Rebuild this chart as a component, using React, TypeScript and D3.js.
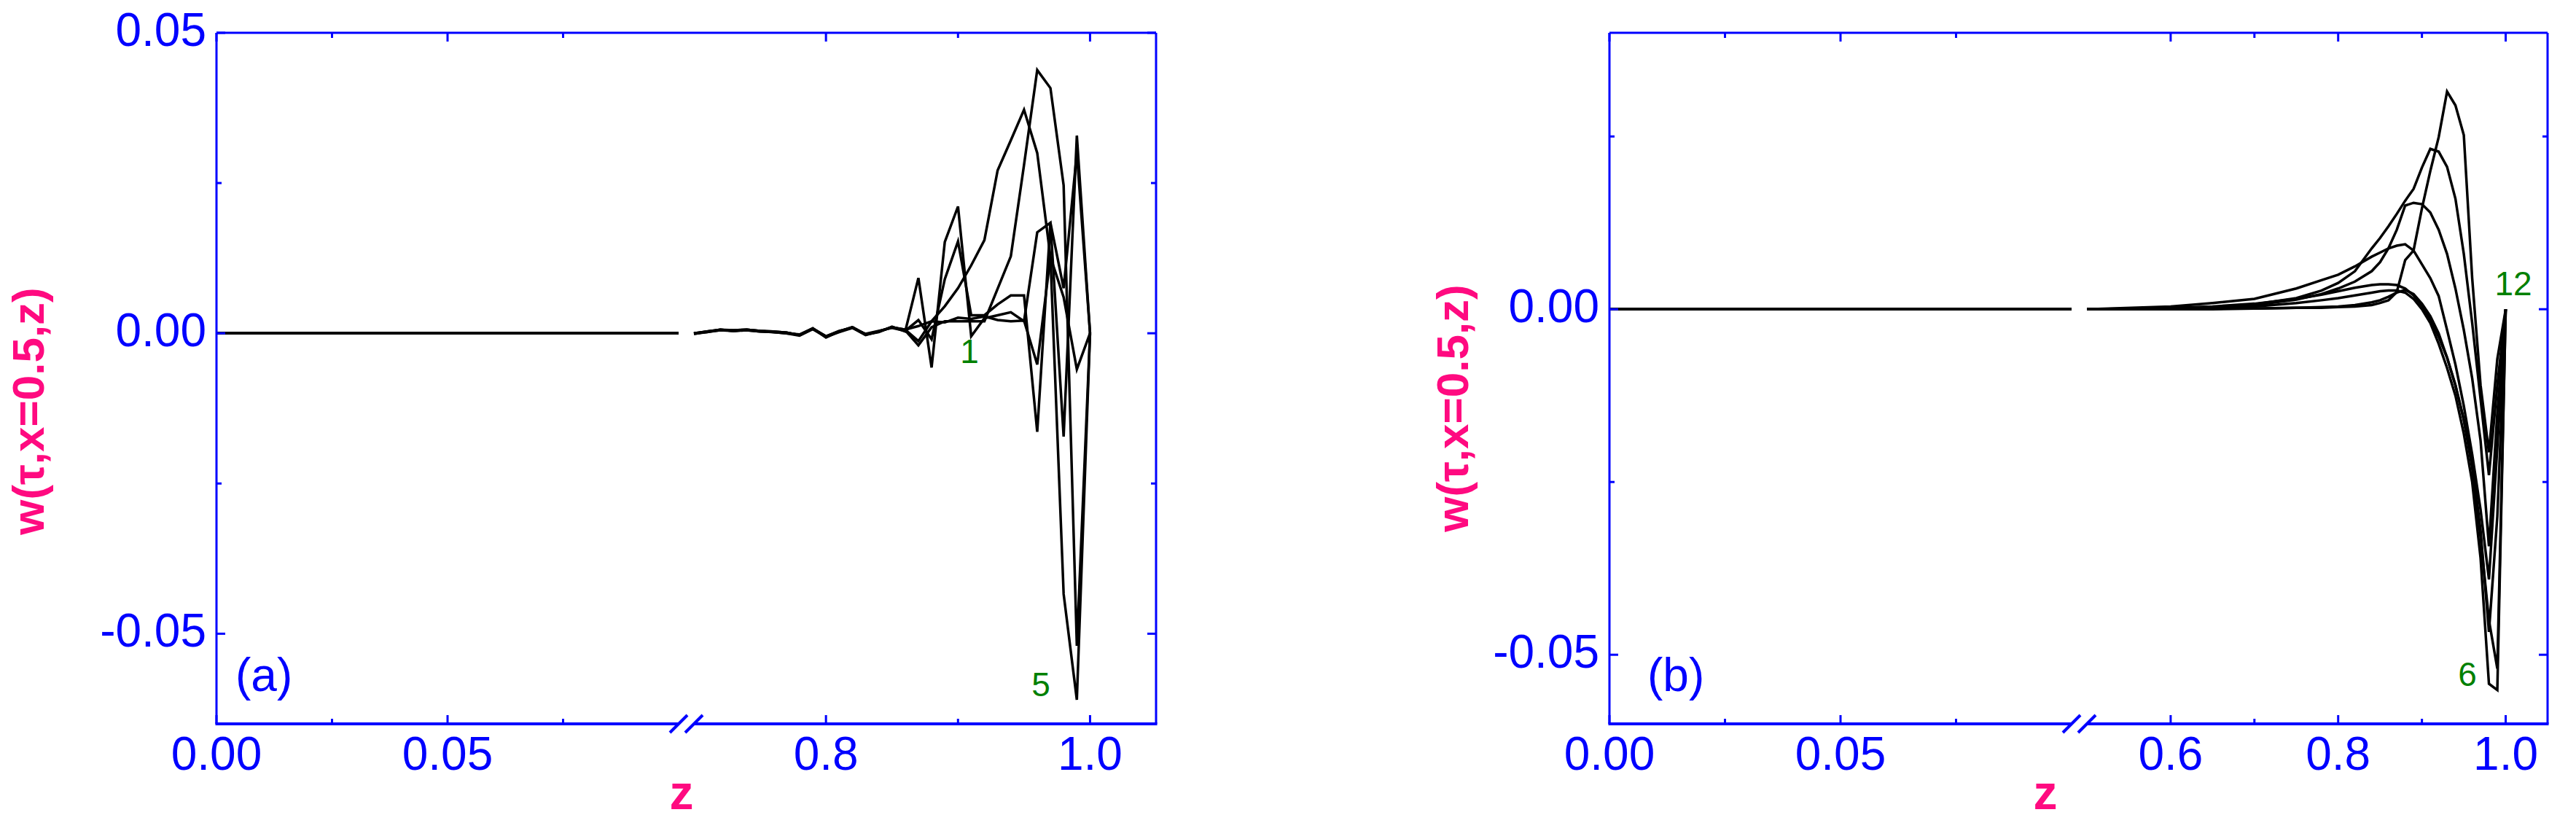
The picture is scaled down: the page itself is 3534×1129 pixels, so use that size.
import React from 'react';
import * as d3 from 'd3';

// ---------------- DATA ----------------
// Both panels: first axis segment z in [0, 0.1] (flat line w = 0)
const zSeg1 = [0, 0.1];
const wSeg1 = [0, 0];

// Panel (a): curves 1..5, second axis segment
const zLeft = [0.70, 0.71, 0.72, 0.73, 0.74, 0.75, 0.76, 0.77, 0.78, 0.79, 0.80, 0.81, 0.82, 0.83, 0.84, 0.85,
  0.86, 0.87, 0.88, 0.89, 0.90, 0.91, 0.92, 0.93, 0.94, 0.95, 0.96, 0.97, 0.98, 0.99, 1.00];
const wA1 = [0.0000, 0.0003, 0.0006, 0.0005, 0.0006, 0.0004, 0.0003, 0.0001, -0.0003, 0.0008, -0.0006, 0.0003, 0.0010, -0.0002, 0.0003, 0.0010,
  0.0006, 0.0012, 0.0020, 0.0018, 0.0026, 0.0024, 0.0028, 0.0022, 0.0020, 0.0021, -0.0052, 0.0127, 0.0060, -0.0060, 0];
const wA2 = [0.0000, 0.0002, 0.0006, 0.0004, 0.0005, 0.0003, 0.0002, 0.0000, -0.0004, 0.0007, -0.0005, 0.0004, 0.0009, -0.0001, 0.0004, 0.0009,
  0.0004, 0.0022, -0.0010, 0.0090, 0.0153, 0.0030, 0.0030, 0.0048, 0.0063, 0.0063, -0.0164, 0.0184, 0.0075, 0.0300, 0];
const wA3 = [-0.0001, 0.0002, 0.0005, 0.0004, 0.0005, 0.0003, 0.0002, 0.0000, -0.0002, 0.0008, -0.0007, 0.0003, 0.0010, -0.0002, 0.0002, 0.0011,
  0.0003, 0.0092, -0.0057, 0.0152, 0.0211, -0.0005, 0.0025, 0.0030, 0.0035, 0.0020, 0.0168, 0.0184, -0.0172, 0.0329, 0];
const wA4 = [0.0000, 0.0003, 0.0005, 0.0005, 0.0006, 0.0004, 0.0002, 0.0001, -0.0003, 0.0007, -0.0006, 0.0002, 0.0009, -0.0003, 0.0003, 0.0010,
  0.0005, -0.0020, 0.0010, 0.0020, 0.0020, 0.0020, 0.0020, 0.0074, 0.0128, 0.0280, 0.0438, 0.0408, 0.0246, -0.0520, 0];
const wA5 = [-0.0001, 0.0003, 0.0006, 0.0004, 0.0006, 0.0004, 0.0003, 0.0001, -0.0003, 0.0008, -0.0005, 0.0003, 0.0010, -0.0002, 0.0003, 0.0010,
  0.0006, -0.0013, 0.0020, 0.0045, 0.0075, 0.0113, 0.0155, 0.0271, 0.0321, 0.0372, 0.0300, 0.0127, -0.0434, -0.0610, 0];
const seriesA = [wA1, wA2, wA3, wA4, wA5];

// Panel (b): curves 6..12, second axis segment
const zRight = [0.50, 0.60, 0.65, 0.70, 0.75, 0.78, 0.80, 0.82, 0.84, 0.85, 0.86, 0.87, 0.88, 0.89, 0.90,
  0.91, 0.92, 0.93, 0.94, 0.95, 0.96, 0.97, 0.98, 0.99, 1.00];
const wB6 = [0, 0, 0.0001, 0.0001, 0.0002, 0.0003, 0.0004, 0.0006, 0.0010, 0.0013, 0.0018, 0.0024, 0.0028, 0.0022, 0.0008,
  -0.0010, -0.0035, -0.0070, -0.0110, -0.0160, -0.0230, -0.0330, -0.0450, -0.0520, 0];
const wB7 = [0, 0.0001, 0.0002, 0.0004, 0.0009, 0.0013, 0.0016, 0.0020, 0.0024, 0.0026, 0.0027, 0.0027, 0.0024, 0.0015, 0.0000,
  -0.0020, -0.0050, -0.0085, -0.0125, -0.0180, -0.0250, -0.0360, -0.0542, -0.0551, 0];
const wB8 = [0, 0.0002, 0.0004, 0.0008, 0.0015, 0.0021, 0.0026, 0.0031, 0.0035, 0.0036, 0.0036, 0.0035, 0.0030, 0.0020, 0.0005,
  -0.0015, -0.0040, -0.0070, -0.0110, -0.0160, -0.0220, -0.0320, -0.0467, -0.0300, 0];
const wB9 = [0, 0.0004, 0.0009, 0.0015, 0.0030, 0.0042, 0.0050, 0.0062, 0.0076, 0.0082, 0.0088, 0.0092, 0.0094, 0.0085, 0.0065,
  0.0045, 0.0019, -0.0030, -0.0080, -0.0140, -0.0210, -0.0290, -0.0391, -0.0200, 0];
const wB10 = [0, 0.0001, 0.0003, 0.0006, 0.0014, 0.0022, 0.0030, 0.0040, 0.0055, 0.0068, 0.0088, 0.0115, 0.0150, 0.0154, 0.0152,
  0.0140, 0.0115, 0.0080, 0.0030, -0.0030, -0.0100, -0.0190, -0.0343, -0.0150, 0];
const wB11 = [0, 0.0001, 0.0003, 0.0007, 0.0016, 0.0027, 0.0038, 0.0055, 0.0088, 0.0103, 0.0120, 0.0138, 0.0157, 0.0174, 0.0205,
  0.0232, 0.0228, 0.0206, 0.0160, 0.0080, -0.0020, -0.0130, -0.0240, -0.0110, 0];
const wB12 = [0, 0, 0, 0.0001, 0.0002, 0.0002, 0.0003, 0.0004, 0.0006, 0.0009, 0.0013, 0.0025, 0.0071, 0.0085, 0.0146,
  0.0200, 0.0249, 0.0315, 0.0295, 0.0252, 0.0045, -0.0110, -0.0207, -0.0072, 0];
const seriesB = [wB6, wB7, wB8, wB9, wB10, wB11, wB12];

// Tick values and labels
const seg1Major = [0, 0.05];
const seg1Minor = [0.025, 0.075];
const seg1Labels = ['0.00', '0.05'];
const seg2MajorA = [0.8, 1.0];
const seg2MinorA = [0.9];
const seg2LabelsA = ['0.8', '1.0'];
const seg2MajorB = [0.6, 0.8, 1.0];
const seg2MinorB = [0.7, 0.9];
const seg2LabelsB = ['0.6', '0.8', '1.0'];
const yMajorA = [0.05, 0, -0.05];
const yLabelsA = ['0.05', '0.00', '-0.05'];
const yMinorA = [0.025, -0.025];
const yMajorB = [0, -0.05];
const yLabelsB = ['0.00', '-0.05'];
const yMinorB = [0.025, -0.025];

// ---------------- STYLE ----------------
const FONT = "'Liberation Sans', Arial, Helvetica, sans-serif";
const BLUE = '#0000FF';
const PINK = '#FF0A80';
const GREEN = '#008000';
const TOP = 45;
const BOTTOM = 993;

type PanelCfg = {
  L: number; R: number; s1: [number, number]; s2: [number, number];
  z2dom: [number, number]; ydom: [number, number];
  zData: number[]; series: number[][];
  m2: number[]; n2: number[]; l2: string[];
  ym: number[]; yl: string[]; yn: number[];
  ylabelX: number; ylabelY: number; zX: number; letter: string; letterX: number;
  notes: { t: string; x: number; y: number }[];
};

const panels: PanelCfg[] = [
  {
    L: 297, R: 1586, s1: [297, 931], s2: [952, 1586], z2dom: [0.7, 1.05], ydom: [-0.065, 0.05],
    zData: zLeft, series: seriesA, m2: seg2MajorA, n2: seg2MinorA, l2: seg2LabelsA,
    ym: yMajorA, yl: yLabelsA, yn: yMinorA, ylabelX: 60, ylabelY: 564, zX: 935,
    letter: '(a)', letterX: 323,
    notes: [{ t: '1', x: 1330, y: 498 }, { t: '5', x: 1428, y: 955 }],
  },
  {
    L: 2208, R: 3495, s1: [2208, 2842], s2: [2863, 3495], z2dom: [0.5, 1.05], ydom: [-0.06, 0.04],
    zData: zRight, series: seriesB, m2: seg2MajorB, n2: seg2MinorB, l2: seg2LabelsB,
    ym: yMajorB, yl: yLabelsB, yn: yMinorB, ylabelX: 2014, ylabelY: 560, zX: 2806,
    letter: '(b)', letterX: 2260,
    notes: [{ t: '12', x: 3448, y: 405 }, { t: '6', x: 3385, y: 941 }],
  },
];

function Panel({ p }: { p: PanelCfg }) {
  const x1 = d3.scaleLinear().domain([zSeg1[0], zSeg1[1]]).range(p.s1);
  const x2 = d3.scaleLinear().domain(p.z2dom).range(p.s2);
  const y = d3.scaleLinear().domain(p.ydom).range([BOTTOM, TOP]);

  const line1 = d3.line<number>().x((_, i) => x1(zSeg1[i])).y((d) => y(d));
  const line2 = d3.line<number>().x((_, i) => x2(p.zData[i])).y((d) => y(d));

  const MAJ = 12, MIN = 7;
  const xTicks = [
    ...seg1Major.map((v) => ({ x: x1(v), len: MAJ })),
    ...seg1Minor.map((v) => ({ x: x1(v), len: MIN })),
    ...p.m2.map((v) => ({ x: x2(v), len: MAJ })),
    ...p.n2.map((v) => ({ x: x2(v), len: MIN })),
  ];
  const yTicks = [
    ...p.ym.map((v) => ({ y: y(v), len: MAJ })),
    ...p.yn.map((v) => ({ y: y(v), len: MIN })),
  ];
  const gapL = p.s1[1];
  const gapR = p.s2[0];

  return (
    <g>
      {/* data */}
      <g fill="none" stroke="#000" strokeWidth={3.5} strokeLinejoin="miter">
        {p.series.map((s, k) => (
          <path key={'a' + k} d={line1(wSeg1) || ''} />
        ))}
        {p.series.map((s, k) => (
          <path key={'b' + k} d={line2(s) || ''} />
        ))}
      </g>

      {/* frame */}
      <g stroke={BLUE} fill="none">
        <line x1={p.L} y1={TOP} x2={p.R} y2={TOP} strokeWidth={3} />
        <line x1={p.L} y1={TOP} x2={p.L} y2={BOTTOM} strokeWidth={3} />
        <line x1={p.R} y1={TOP} x2={p.R} y2={BOTTOM} strokeWidth={3} />
        <line x1={p.L - 1.5} y1={BOTTOM} x2={gapL} y2={BOTTOM} strokeWidth={4} />
        <line x1={gapR} y1={BOTTOM} x2={p.R + 1.5} y2={BOTTOM} strokeWidth={4} />
        <line x1={gapL - 12} y1={BOTTOM + 12} x2={gapL + 12} y2={BOTTOM - 12} strokeWidth={4} />
        <line x1={gapR - 12} y1={BOTTOM + 12} x2={gapR + 12} y2={BOTTOM - 12} strokeWidth={4} />
        {xTicks.map((t, i) => (
          <g key={'xt' + i}>
            <line x1={t.x} y1={BOTTOM} x2={t.x} y2={BOTTOM - t.len} strokeWidth={3} />
            <line x1={t.x} y1={TOP} x2={t.x} y2={TOP + t.len} strokeWidth={3} />
          </g>
        ))}
        {yTicks.map((t, i) => (
          <g key={'yt' + i}>
            <line x1={p.L} y1={t.y} x2={p.L + t.len} y2={t.y} strokeWidth={3} />
            <line x1={p.R} y1={t.y} x2={p.R - t.len} y2={t.y} strokeWidth={3} />
          </g>
        ))}
      </g>

      {/* tick labels */}
      <g fill={BLUE} fontFamily={FONT} fontSize={64}>
        {seg1Major.map((v, i) => (
          <text key={'l1' + i} x={x1(v)} y={1056} textAnchor="middle">{seg1Labels[i]}</text>
        ))}
        {p.m2.map((v, i) => (
          <text key={'l2' + i} x={x2(v)} y={1056} textAnchor="middle">{p.l2[i]}</text>
        ))}
        {p.ym.map((v, i) => (
          <text key={'ly' + i} x={p.L - 14} y={y(v) + 18} textAnchor="end">{p.yl[i]}</text>
        ))}
        <text x={p.letterX} y={948}>{p.letter}</text>
      </g>

      {/* axis titles */}
      <text x={p.zX} y={1110} textAnchor="middle" fill={PINK} fontFamily={FONT} fontSize={66} fontWeight="bold">z</text>
      <text transform={`translate(${p.ylabelX},${p.ylabelY}) rotate(-90)`} textAnchor="middle" fill={PINK}
        fontFamily={FONT} fontSize={62} fontWeight="bold">w(τ,x=0.5,z)</text>

      {/* curve labels */}
      <g fill={GREEN} fontFamily={FONT} fontSize={46}>
        {p.notes.map((n, i) => (
          <text key={'n' + i} x={n.x} y={n.y} textAnchor="middle">{n.t}</text>
        ))}
      </g>
    </g>
  );
}

export default function App() {
  return (
    <svg width={3534} height={1129} viewBox="0 0 3534 1129"
      style={{ position: 'absolute', left: 0, top: 0, background: '#fff' }}>
      <rect x={0} y={0} width={3534} height={1129} fill="#fff" />
      {panels.map((p, i) => <Panel key={i} p={p} />)}
    </svg>
  );
}
